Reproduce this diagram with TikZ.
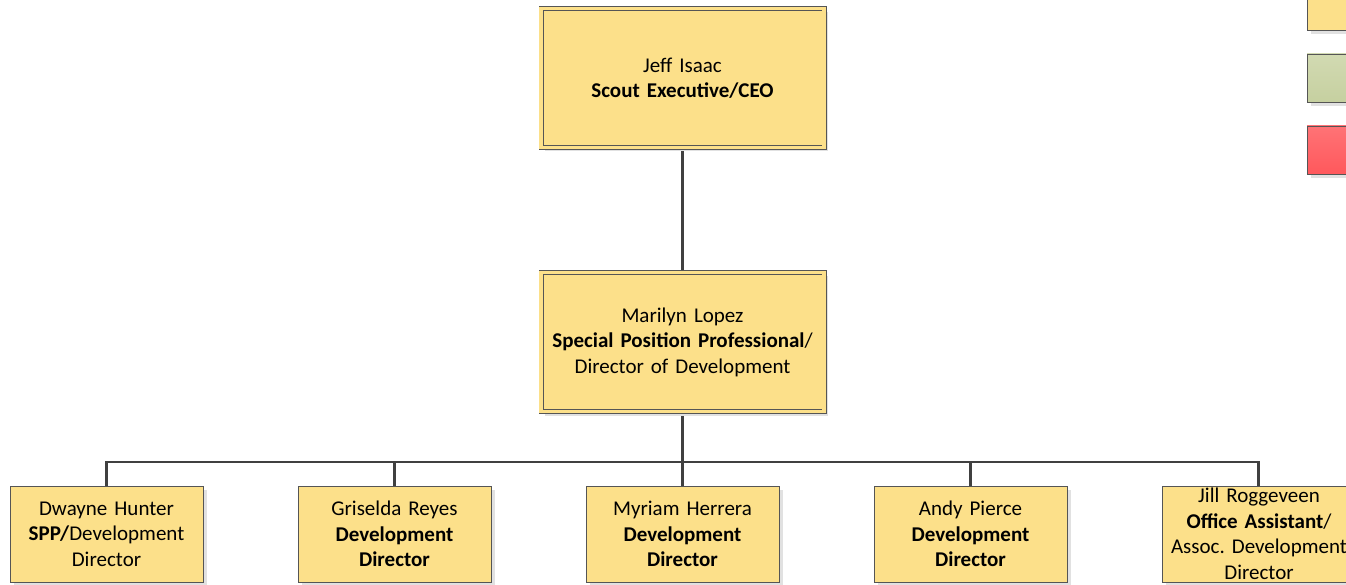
\documentclass[tikz,border=0pt]{standalone}
\usepackage{fontspec}
\setmainfont{Carlito}
\frenchspacing
\usetikzlibrary{shadows}
\definecolor{boxfill}{RGB}{252,224,138}
\definecolor{boxline}{RGB}{85,85,85}
\definecolor{connline}{RGB}{64,64,64}
\definecolor{shade}{RGB}{225,225,225}
\definecolor{greentop}{RGB}{210,218,178}
\definecolor{greenbot}{RGB}{198,208,160}
\definecolor{redtop}{RGB}{255,115,118}
\definecolor{redbot}{RGB}{255,88,92}
\tikzset{
  myshadow/.style={general shadow={fill=shade, shadow xshift=4pt, shadow yshift=-4pt}},
  bigbox/.style={rectangle, myshadow, fill=boxfill, draw=boxline, line width=0.8pt,
    double=boxfill, double distance=3.4pt, minimum width=283pt, minimum height=139pt, inner sep=0pt},
  smallbox/.style={rectangle, myshadow, fill=boxfill, draw=boxline, line width=0.9pt,
    minimum width=193pt, minimum height=96pt, inner sep=0pt},
  txt/.style={text width=270pt, align=center, inner sep=0pt,
    font=\fontsize{21}{25.5}\selectfont},
  conn/.style={draw=connline, line width=2.6pt},
  legbox/.style={draw=boxline, line width=0.9pt, myshadow}
}
\begin{document}
\begin{tikzpicture}[x=1pt,y=-1pt]
\useasboundingbox (0,0) rectangle (1346,585);
\clip (0,0) rectangle (1346,585);
\node[bigbox] (ceo) at (682.5,78) {};
\node[bigbox] (dir) at (682.5,342) {};
\node[smallbox] (d1) at (106.5,534) {};
\node[smallbox] (d2) at (394.5,534) {};
\node[smallbox] (d3) at (682.5,534) {};
\node[smallbox] (d4) at (970.5,534) {};
\node[smallbox] (d5) at (1258.5,534) {};
\coordinate (bar) at (682.5,462);
% connectors
\draw[conn] (ceo.south) -- (dir.north);
\draw[conn] (dir.south) -- (bar);
\draw[conn] (d1.north) |- (bar);
\draw[conn] (d2.north) |- (bar);
\draw[conn] (d3.north) -- (bar);
\draw[conn] (d4.north) |- (bar);
\draw[conn] (d5.north) |- (bar);
% redraw boxes over connectors
\node[bigbox] at (682.5,78) {};
\node[bigbox] at (682.5,342) {};
\node[smallbox] at (106.5,534) {};
\node[smallbox] at (394.5,534) {};
\node[smallbox] at (682.5,534) {};
\node[smallbox] at (970.5,534) {};
\node[smallbox] at (1258.5,534) {};
% texts
\node[txt] (t0) at (ceo) {Jeff Isaac\\\textbf{Scout Executive/CEO}};
\node[txt] (t1) at (dir) {Marilyn Lopez\\\textbf{Special Position Professional}/\\Director of Development};
\node[txt] (t2) at (d1) {Dwayne Hunter\\\textbf{SPP/}Development\\Director};
\node[txt] (t3) at (d2) {Griselda Reyes\\\textbf{Development}\\\textbf{Director}};
\node[txt] (t4) at (d3) {Myriam Herrera\\\textbf{Development}\\\textbf{Director}};
\node[txt] (t5) at (d4) {Andy Pierce\\\textbf{Development}\\\textbf{Director}};
\node[txt] (t6) at (1259,534) {Jill Roggeveen\\\textbf{Office Assistant}/\\Assoc. Development\\Director};
% legend
\path[legbox, fill=boxfill] (1307,-18) rectangle (1380,30);
\path[legbox, top color=greentop, bottom color=greenbot] (1307,54) rectangle (1380,102);
\path[legbox, top color=redtop, bottom color=redbot] (1307,126) rectangle (1380,174);
\end{tikzpicture}
\end{document}
